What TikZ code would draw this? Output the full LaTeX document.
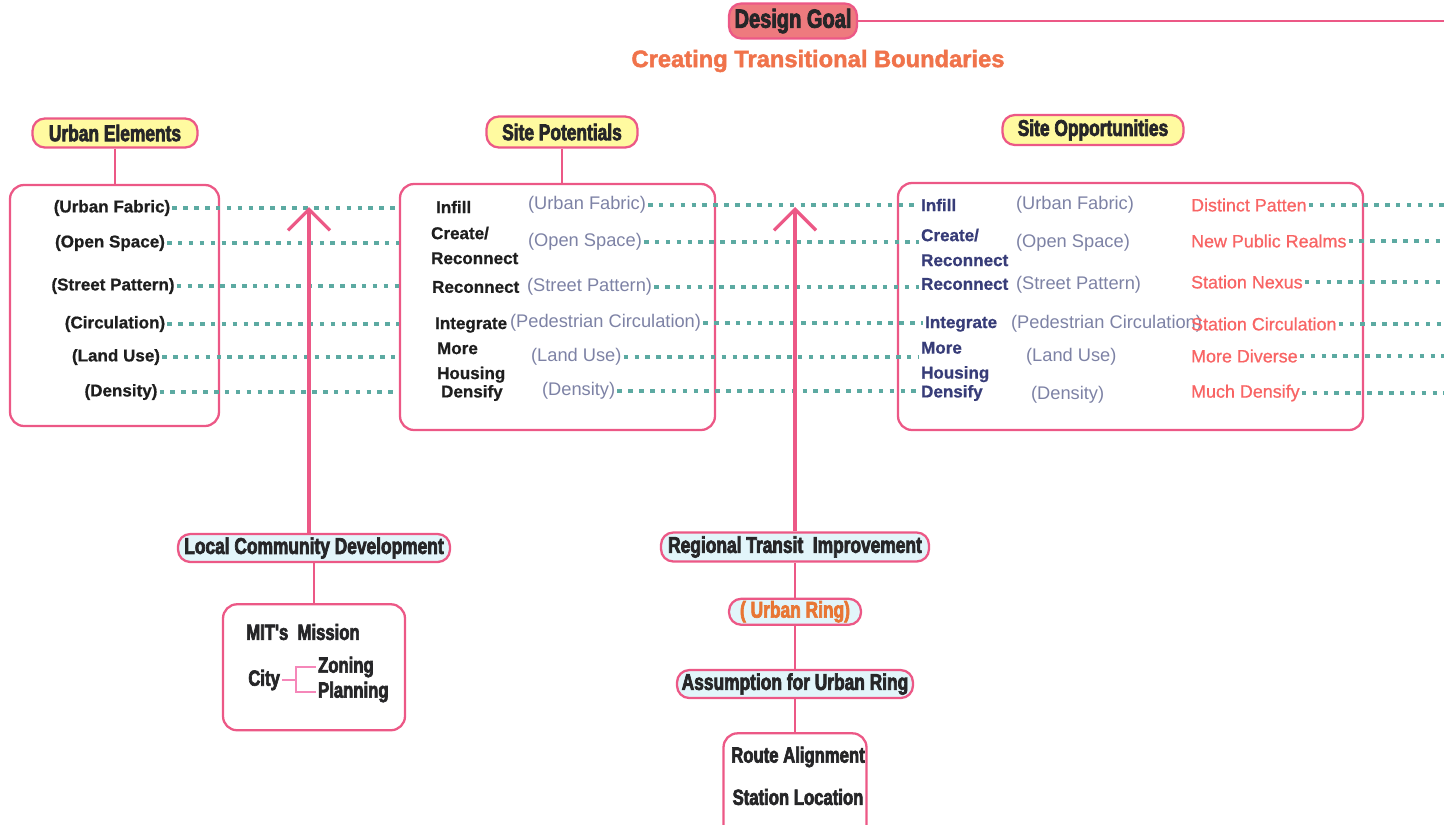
\documentclass[tikz,border=0pt]{standalone}
\usepackage{fontspec}
\setmainfont{Liberation Sans}[BoldFeatures={FakeBold=0.8}]
\newfontfamily\headfont{Liberation Sans Bold}[FakeStretch=0.76,FakeBold=3]
\newfontfamily\titlefont{Liberation Sans Bold}[FakeBold=2]
\newfontfamily\semifont{Liberation Sans}[FakeBold=0.8]
\usepackage{tikz}
\usetikzlibrary{arrows.meta, positioning, fit, calc}
\usepackage{xcolor}
\definecolor{linkpink}{RGB}{236, 88, 134}
\definecolor{dotteal}{RGB}{92, 170, 162}
\definecolor{headyellow}{RGB}{255, 250, 160}
\definecolor{headcyan}{RGB}{226, 245, 250}
\definecolor{goalred}{RGB}{238, 122, 126}
\definecolor{headink}{RGB}{38, 38, 40}
\definecolor{labelink}{RGB}{30, 30, 30}
\definecolor{catgrey}{RGB}{125, 130, 165}
\definecolor{navyink}{RGB}{55, 60, 120}
\definecolor{chancered}{RGB}{248, 100, 100}
\definecolor{titleorange}{RGB}{240, 115, 75}
\definecolor{ringorange}{RGB}{232, 118, 52}
\definecolor{forkpink}{RGB}{245, 135, 185}

\begin{document}
\begin{tikzpicture}[x=0.02cm, y=-0.02cm,
    every node/.style={inner sep=1pt},
    bigbox/.style={draw=linkpink, line width=1.3pt, rounded corners=8pt, inner sep=0pt},
    headbox/.style={draw=linkpink, line width=1.3pt, rounded corners=7pt, fill=headyellow,
        text=headink, font=\headfont\fontsize{13}{15}\selectfont, minimum height=0.58cm},
    subbox/.style={headbox, fill=headcyan, minimum height=0.56cm},
    elem/.style={font=\bfseries\fontsize{9.7}{14.2}\selectfont, text=labelink},
    act/.style={elem, anchor=west, align=left},
    cat/.style={font=\fontsize{10.4}{12}\selectfont, text=catgrey, anchor=west},
    chance/.style={font=\semifont\fontsize{10.2}{12}\selectfont, text=chancered, anchor=west},
    boxtext/.style={font=\headfont\fontsize{12.5}{14}\selectfont, text=headink},
    pinkline/.style={draw=linkpink, line width=1.3pt},
    forkline/.style={draw=forkpink, line width=0.9pt},
    rowdots/.style={draw=dotteal, line width=2.2pt, dash pattern=on 2.6pt off 3.6pt},
    arrow/.style={draw=linkpink, line width=1.9pt, -{Straight Barb[length=0.42cm, width=0.84cm]}}
]
\useasboundingbox (0,0) rectangle (1444,825);
\coordinate (rim) at (1444,0);

% goal
\node[headbox, fill=goalred, minimum width=2.56cm, minimum height=0.7cm,
    font=\headfont\fontsize{15}{17}\selectfont] (goal) at (793,21) {Design Goal};
\node[font=\titlefont\fontsize{13.5}{15}\selectfont, text=titleorange] (title) at (818,61)
    {Creating Transitional Boundaries};

% headers and boxes
\node[headbox, minimum width=3.3cm] (ueh) at (115,133) {Urban Elements};
\node[headbox, minimum width=3.02cm, minimum height=0.62cm] (poth) at (562,132) {Site Potentials};
\node[headbox, minimum width=3.62cm, minimum height=0.6cm] (opph) at (1093,130) {Site Opportunities};
\node[bigbox, fit={(10,185) (219,426)}] (uebox) {};
\node[bigbox, fit={(400,184) (715,430)}] (potbox) {};
\node[bigbox, fit={(898,183) (1363,430)}] (oppbox) {};

% urban elements
\node[elem] (ue1) at (112,208) {(Urban Fabric)};
\node[elem] (ue2) at (110,243) {(Open Space)};
\node[elem] (ue3) at (113,286) {(Street Pattern)};
\node[elem] (ue4) at (115,324) {(Circulation)};
\node[elem] (ue5) at (116,357) {(Land Use)};
\node[elem] (ue6) at (121,392) {(Density)};

% site potentials
\node[act] (pa1) at (434,207) {Infill};
\node[act] (pa2) at (429,245.5) {Create/\\Reconnect};
\node[act] (pa3) at (430,287) {Reconnect};
\node[act] (pa4) at (433,325) {Integrate};
\node[act] (pa5) at (435,362.5) {More\\Housing};
\node[act] (pa6) at (439,393) {Densify};
\node[cat] (pc1) at (526,205) {(Urban Fabric)};
\node[cat] (pc2) at (526,242) {(Open Space)};
\node[cat] (pc3) at (525,287) {(Street Pattern)};
\node[cat] (pc4) at (508,323) {(Pedestrian Circulation)};
\node[cat] (pc5) at (529,357) {(Land Use)};
\node[cat] (pc6) at (540,391) {(Density)};

% site opportunities
\node[act, text=navyink] (oa1) at (919,205) {Infill};
\node[act, text=navyink] (oa2) at (919,247.5) {Create/\\Reconnect};
\node[act, text=navyink] (oa3) at (919,284) {Reconnect};
\node[act, text=navyink] (oa4) at (923,324) {Integrate};
\node[act, text=navyink] (oa5) at (919,362) {More\\Housing};
\node[act, text=navyink] (oa6) at (919,393) {Densify};
\node[cat] (oc1) at (1014,205) {(Urban Fabric)};
\node[cat] (oc2) at (1014,243) {(Open Space)};
\node[cat] (oc3) at (1014,285) {(Street Pattern)};
\node[cat] (oc4) at (1009,324) {(Pedestrian Circulation)};
\node[cat] (oc5) at (1024,357) {(Land Use)};
\node[cat] (oc6) at (1029,395) {(Density)};
\node[chance] (od1) at (1189,205) {Distinct Patten};
\node[chance] (od2) at (1189,241) {New Public Realms};
\node[chance] (od3) at (1189,282) {Station Nexus};
\node[chance] (od4) at (1189,324) {Station Circulation};
\node[chance] (od5) at (1189,356) {More Diverse};
\node[chance] (od6) at (1189,393) {Much Densify};

% local community
\node[subbox, minimum width=5.44cm] (lcd) at (314,548) {Local Community Development};
\node[bigbox, minimum width=3.64cm, minimum height=2.52cm, below=0.8cm of lcd] (mit) {};
\node[boxtext] (mission) at (303,632) {MIT's\ \ Mission};
\node[boxtext, anchor=east] (city) at (282,680) {City};
\node[boxtext, anchor=west] (zoning) at (316,667) {Zoning};
\node[boxtext, anchor=west] (planning) at (316,692) {Planning};
\coordinate (fork) at (296,680);

% regional transit
\node[subbox, minimum width=5.36cm, minimum height=0.58cm] (rti) at (795,547) {Regional Transit\ \ Improvement};
\node[subbox, minimum width=2.64cm, minimum height=0.52cm, text=ringorange, below=0.7cm of rti] (ring) {( Urban Ring)};
\node[subbox, minimum width=4.72cm, below=0.86cm of ring] (assume) {Assumption for Urban Ring};
\node[bigbox, minimum width=2.86cm, minimum height=2.1cm, below=0.66cm of assume] (route) {};
\node[boxtext] (align) at (798,757) {Route Alignment};
\node[boxtext] (station) at (798,797) {Station Location};

\coordinate (tipA) at (309,207);
\coordinate (tipB) at (795,207);

% connectors
\draw[pinkline] (goal.east) -- (goal.east -| rim);
\draw[pinkline] (ueh.south) -- (ueh.south |- uebox.north);
\draw[pinkline] (poth.south) -- (poth.south |- potbox.north);
\foreach \i in {1,...,6} {
    \draw[rowdots] (ue\i.east) -- (ue\i.east -| potbox.west);
    \draw[rowdots] (pc\i.east) -- (pc\i.east -| oa\i.west);
    \draw[rowdots] (od\i.east) -- (od\i.east -| rim);
}
\draw[arrow] (lcd.north -| tipA) -- (tipA);
\draw[arrow] (rti.north -| tipB) -- (tipB);
\draw[pinkline] (lcd.south) -- (mit.north);
\draw[forkline] (city.east) -- (city.east -| fork);
\draw[forkline] (zoning.west) -| (fork) |- (planning.west);
\draw[pinkline] (rti.south) -- (ring.north);
\draw[pinkline] (ring.south) -- (assume.north);
\draw[pinkline] (assume.south) -- (route.north);
\end{tikzpicture}
\end{document}
